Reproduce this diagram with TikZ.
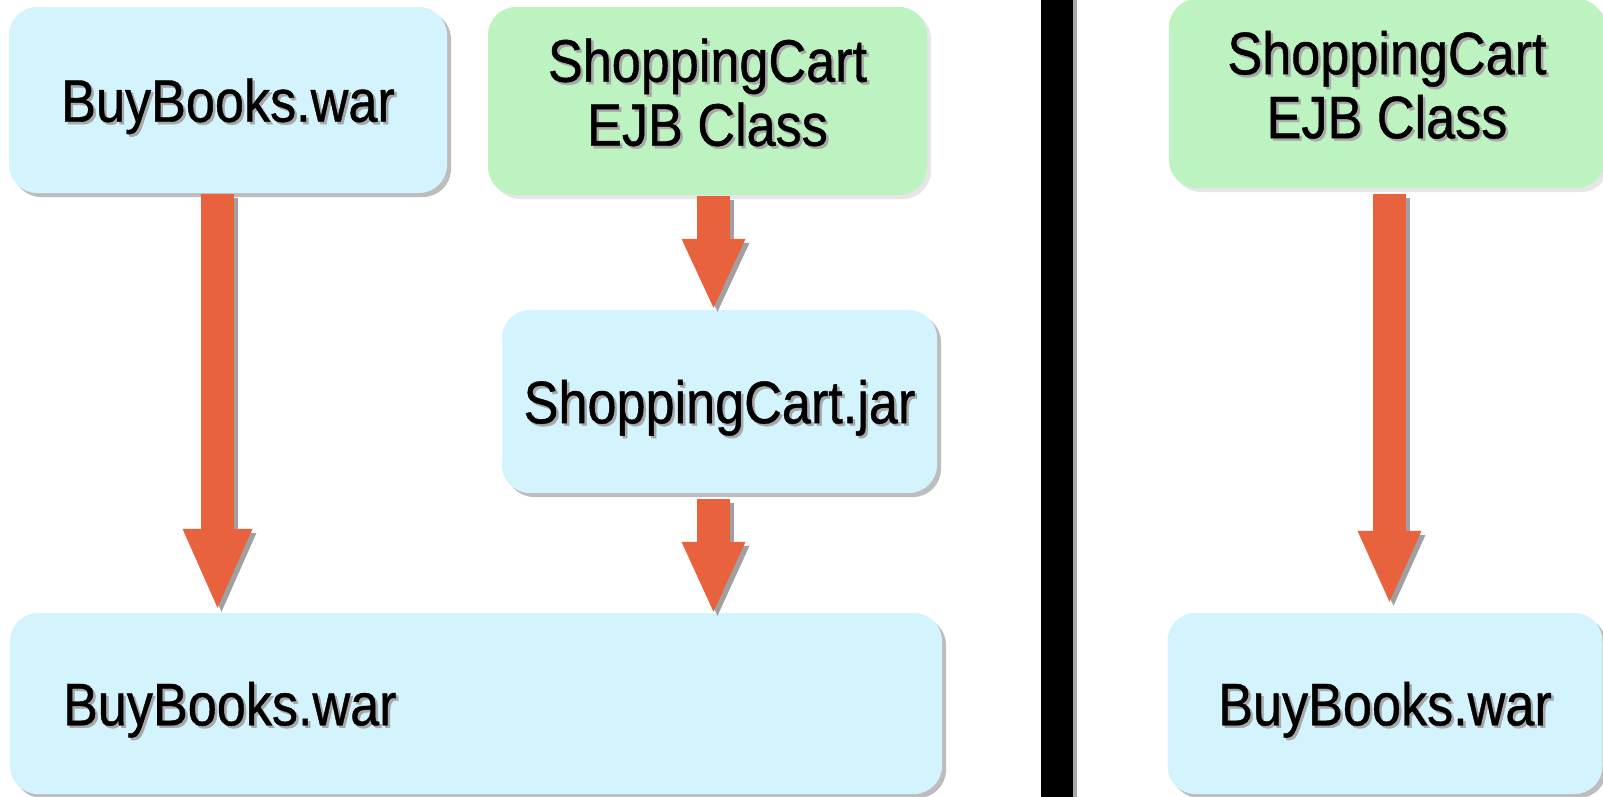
\documentclass[tikz,border=0pt]{standalone}
\usepackage{fontspec}
\setmainfont{Liberation Sans}[FakeStretch=0.87,FakeBold=0.7]
\usetikzlibrary{arrows.meta,shadows}
\definecolor{boxblue}{HTML}{D3F3FD}
\definecolor{boxgreen}{HTML}{BDF3C0}
\definecolor{arrowc}{HTML}{E9623E}
\definecolor{arrowsh}{HTML}{A0A0A0}
\definecolor{txtshadow}{HTML}{A8A8A8}
\definecolor{blueshadow}{HTML}{BDBDBD}
\definecolor{greenshadow}{HTML}{E6E6E6}
\definecolor{divgray}{HTML}{A8A8A8}
\newcommand{\sht}[1]{\makebox[0pt][l]{\hspace{2.5pt}\raisebox{-2.5pt}{\textcolor{txtshadow}{#1}}}#1}
\tikzset{
  boxbase/.style={rounded corners=28pt, inner sep=0pt, font=\fontsize{60}{64}\selectfont, text=black},
  bluebox/.style={boxbase, fill=boxblue, text depth=0pt,
    drop shadow={shadow xshift=4pt, shadow yshift=-4pt, fill=blueshadow, opacity=1}},
  greenbox/.style={boxbase, fill=boxgreen, align=center, text depth=18pt,
    drop shadow={shadow xshift=4pt, shadow yshift=-4pt, fill=greenshadow, opacity=1}},
  arr/.style={draw=arrowc, line width=33pt},
  arrsh/.style={draw=arrowsh, line width=33pt, transform canvas={xshift=4pt,yshift=-4pt}},
}
\begin{document}
\begin{tikzpicture}[x=1pt,y=-1pt]
\useasboundingbox (0,0) rectangle (1603,796);
% divider
\fill[divgray] (1073,-2) rectangle (1077,798);
\fill[black] (1041,-2) rectangle (1073,798);
% boxes
\node[bluebox, minimum width=438pt, minimum height=186pt] (b1) at (228,100) {\sht{BuyBooks.war}};
\node[greenbox, minimum width=439pt, minimum height=188pt] (b2) at (707.5,101) {\sht{ShoppingCart}\\\sht{EJB Class}};
\node[bluebox, minimum width=435pt, minimum height=183pt] (b3) at (719.5,401.5) {\sht{ShoppingCart.jar}};
\node[bluebox, minimum width=932pt, minimum height=181pt, text width=826pt, align=left, inner xsep=53pt] (b4) at (476,703.5) {\sht{BuyBooks.war}};
\node[greenbox, minimum width=436pt, minimum height=189pt] (b5) at (1387,93.5) {\sht{ShoppingCart}\\\sht{EJB Class}};
\node[bluebox, minimum width=435pt, minimum height=181pt] (b6) at (1385,703.5) {\sht{BuyBooks.war}};
% arrows
\draw[arrsh, -{Triangle[width=70pt,length=79pt,line width=0pt]}, shorten <=1pt, shorten >=5pt]
  ([xshift=-10.5pt]b1.south) -- ([xshift=-10.5pt]b1.south |- b4.north);
\draw[arr, -{Triangle[width=70pt,length=79pt,line width=0pt]}, shorten <=1pt, shorten >=5pt]
  ([xshift=-10.5pt]b1.south) -- ([xshift=-10.5pt]b1.south |- b4.north);
\draw[arrsh, -{Triangle[width=64pt,length=69pt,line width=0pt]}, shorten <=1pt, shorten >=2pt]
  ([xshift=6pt]b2.south) -- ([xshift=6pt]b2.south |- b3.north);
\draw[arr, -{Triangle[width=64pt,length=69pt,line width=0pt]}, shorten <=1pt, shorten >=2pt]
  ([xshift=6pt]b2.south) -- ([xshift=6pt]b2.south |- b3.north);
\draw[arrsh, -{Triangle[width=64pt,length=70pt,line width=0pt]}, shorten <=6pt, shorten >=1pt]
  ([xshift=-6pt]b3.south) -- ([xshift=-6pt]b3.south |- b4.north);
\draw[arr, -{Triangle[width=64pt,length=70pt,line width=0pt]}, shorten <=6pt, shorten >=1pt]
  ([xshift=-6pt]b3.south) -- ([xshift=-6pt]b3.south |- b4.north);
\draw[arrsh, -{Triangle[width=64pt,length=71pt,line width=0pt]}, shorten <=6pt, shorten >=11pt]
  ([xshift=2.5pt]b5.south) -- ([xshift=2.5pt]b5.south |- b6.north);
\draw[arr, -{Triangle[width=64pt,length=71pt,line width=0pt]}, shorten <=6pt, shorten >=11pt]
  ([xshift=2.5pt]b5.south) -- ([xshift=2.5pt]b5.south |- b6.north);
\end{tikzpicture}
\end{document}
